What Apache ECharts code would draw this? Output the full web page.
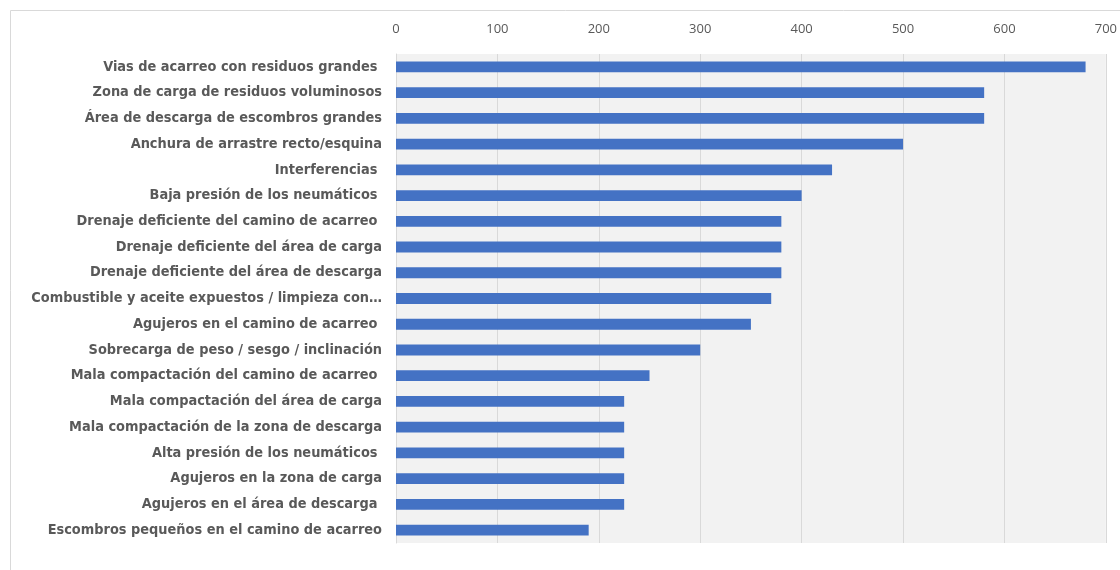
<!DOCTYPE html>
<html><head><meta charset="utf-8">
<script src="https://cdn.jsdelivr.net/npm/echarts@6/dist/echarts.min.js"></script>
<style>html,body{margin:0;padding:0;background:#fff}#c{width:1120px;height:570px}</style>
</head><body><div id="c"></div>
<script>
const categories = [
  "Vias de acarreo con residuos grandes ",
  "Zona de carga de residuos voluminosos",
  "Área de descarga de escombros grandes",
  "Anchura de arrastre recto/esquina",
  "Interferencias ",
  "Baja presión de los neumáticos ",
  "Drenaje deficiente del camino de acarreo ",
  "Drenaje deficiente del área de carga",
  "Drenaje deficiente del área de descarga",
  "Combustible y aceite expuestos / limpieza con…",
  "Agujeros en el camino de acarreo ",
  "Sobrecarga de peso / sesgo / inclinación",
  "Mala compactación del camino de acarreo ",
  "Mala compactación del área de carga",
  "Mala compactación de la zona de descarga",
  "Alta presión de los neumáticos ",
  "Agujeros en la zona de carga",
  "Agujeros en el área de descarga ",
  "Escombros pequeños en el camino de acarreo"
];
const values = [680, 580, 580, 500, 430, 400, 380, 380, 380, 370, 350, 300, 250, 225, 225, 225, 225, 225, 190];
const xTicks = [0, 700, 100];

const chart = echarts.init(document.getElementById('c'));
chart.setOption({
  animation: false,
  graphic: [{type:'rect', shape:{x:10.5,y:10.5,width:1200,height:700}, style:{fill:'none', stroke:'#d9d9d9', lineWidth:1}, z:-10}],
  grid: {left:396, right:14, top:54, bottom:27, show:true, backgroundColor:'#f2f2f2', borderWidth:0},
  xAxis: {type:'value', position:'top', min:xTicks[0], max:xTicks[1], interval:xTicks[2],
    axisLine:{show:false}, axisTick:{show:false},
    splitLine:{show:true, lineStyle:{color:'#d9d9d9', width:1}},
    axisLabel:{color:'#595959', fontSize:13, fontFamily:'Open Sans', margin:18}},
  yAxis: {type:'category', inverse:true, data:categories,
    axisLine:{show:true, lineStyle:{color:'#d9d9d9'}}, axisTick:{show:false},
    axisLabel:{color:'#595959', fontSize:14.4, fontWeight:'bold', fontFamily:"'DejaVu Sans Condensed', 'Liberation Sans', sans-serif", margin:14}},
  series: [{type:'bar', data:values, barWidth:'42%', itemStyle:{color:'#4472c4'}}]
});
</script></body></html>
